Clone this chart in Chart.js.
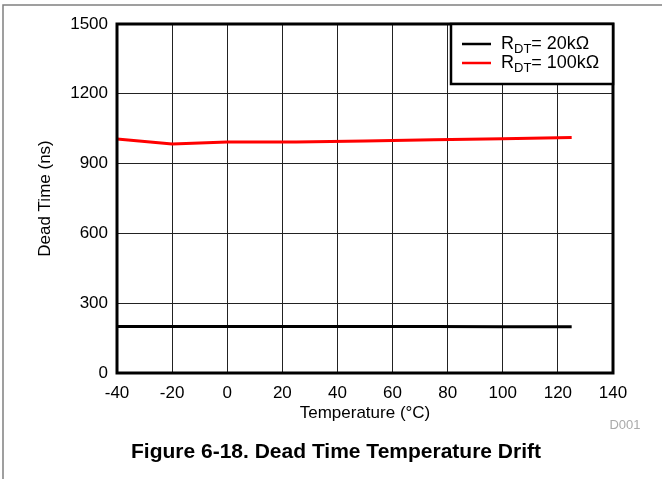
<!DOCTYPE html>
<html lang="en">
<head>
    <meta charset="UTF-8">
    <title>Dead Time Temperature Drift</title>
    <script src="https://cdnjs.cloudflare.com/ajax/libs/Chart.js/4.4.0/chart.umd.min.js"></script>
    <style>
        body {
            margin: 0;
            background-color: white;
        }
        #wrap {
            position: relative;
            width: 662px;
            height: 479px;
        }
        canvas {
            position: absolute;
            left: 0;
            top: 0;
        }
    </style>
</head>
<body>
    <div id="wrap">
        <canvas id="driftChart" width="662" height="479"></canvas>
    </div>

    <script>
        // data
        const temperatures = [-40, -20, 0, 25, 50, 75, 100, 125];
        const deadTime20k = [200, 200, 200, 200, 200, 200, 199, 199];
        const deadTime100k = [1006, 984, 993, 993, 997, 1002, 1007, 1012];

        const xTicks = [-40, -20, 0, 20, 40, 60, 80, 100, 120, 140];
        const yTicks = [0, 300, 600, 900, 1200, 1500];

        const seriesNames = ['20k\u03A9', '100k\u03A9'];
        const seriesColors = ['#000000', '#ff0000'];

        const FONT = '"Liberation Sans", Arial, sans-serif';

        function toPoints(xs, ys) {
            return xs.map((x, i) => ({ x: x, y: ys[i] }));
        }

        // frame, axis titles, legend and caption
        const decorations = {
            id: 'decorations',
            afterDraw(chart) {
                const ctx = chart.ctx;
                const area = chart.chartArea;
                ctx.save();

                // outer gray frame (top and left only)
                ctx.strokeStyle = '#808080';
                ctx.lineWidth = 1.5;
                ctx.beginPath();
                ctx.moveTo(662, 5);
                ctx.lineTo(3, 5);
                ctx.lineTo(3, 479);
                ctx.stroke();

                // thick plot border
                ctx.strokeStyle = '#000';
                ctx.lineWidth = 3;
                ctx.strokeRect(area.left, area.top, area.right - area.left, area.bottom - area.top);

                // legend box
                const lx = 451, ly = area.top, lw = area.right - 451, lh = 60;
                ctx.fillStyle = '#fff';
                ctx.fillRect(lx, ly, lw, lh);
                ctx.lineWidth = 2.5;
                ctx.strokeRect(lx, ly, lw, lh);

                seriesNames.forEach((name, i) => {
                    const y = 44 + i * 19;
                    ctx.strokeStyle = seriesColors[i];
                    ctx.lineWidth = 2.5;
                    ctx.beginPath();
                    ctx.moveTo(462, y);
                    ctx.lineTo(491, y);
                    ctx.stroke();

                    ctx.fillStyle = '#000';
                    ctx.textBaseline = 'middle';
                    ctx.textAlign = 'left';
                    ctx.font = '18px ' + FONT;
                    let x = 501;
                    ctx.fillText('R', x, y);
                    x += ctx.measureText('R').width;
                    ctx.font = '13px ' + FONT;
                    ctx.fillText('DT', x, y + 5);
                    x += ctx.measureText('DT').width;
                    ctx.font = '18px ' + FONT;
                    ctx.fillText('= ' + name, x, y);
                });

                // axis titles
                ctx.fillStyle = '#000';
                ctx.font = '17px ' + FONT;
                ctx.textAlign = 'center';
                ctx.textBaseline = 'middle';
                ctx.fillText('Temperature (\u00B0C)', (area.left + area.right) / 2, 413);

                ctx.save();
                ctx.translate(45, (area.top + area.bottom) / 2);
                ctx.rotate(-Math.PI / 2);
                ctx.fillText('Dead Time (ns)', 0, 0);
                ctx.restore();

                // figure id
                ctx.fillStyle = '#aaaaaa';
                ctx.font = '13px ' + FONT;
                ctx.fillText('D001', 625, 425);

                // caption
                ctx.fillStyle = '#000';
                ctx.font = 'bold 21px ' + FONT;
                ctx.fillText('Figure 6-18. Dead Time Temperature Drift', 336, 452);

                ctx.restore();
            }
        };

        new Chart(document.getElementById('driftChart'), {
            type: 'line',
            data: {
                datasets: [{
                    label: 'RDT= ' + seriesNames[0],
                    data: toPoints(temperatures, deadTime20k),
                    borderColor: seriesColors[0],
                    borderWidth: 3,
                    pointRadius: 0,
                    tension: 0
                }, {
                    label: 'RDT= ' + seriesNames[1],
                    data: toPoints(temperatures, deadTime100k),
                    borderColor: seriesColors[1],
                    borderWidth: 3,
                    pointRadius: 0,
                    tension: 0
                }]
            },
            options: {
                responsive: false,
                animation: false,
                devicePixelRatio: 1,
                layout: {
                    padding: { top: 24, right: 49, left: 0, bottom: 0 }
                },
                plugins: {
                    legend: { display: false },
                    tooltip: { enabled: false }
                },
                scales: {
                    x: {
                        type: 'linear',
                        min: -40,
                        max: 140,
                        afterBuildTicks: scale => { scale.ticks = xTicks.map(v => ({ value: v })); },
                        afterFit: scale => { scale.height = 106; },
                        grid: { color: '#222', lineWidth: 1, drawTicks: false },
                        border: { display: false },
                        ticks: {
                            color: '#000',
                            padding: 10,
                            maxRotation: 0,
                            callback: v => String(v),
                            font: { family: FONT, size: 17 }
                        }
                    },
                    y: {
                        min: 0,
                        max: 1500,
                        afterBuildTicks: scale => { scale.ticks = yTicks.map(v => ({ value: v })); },
                        afterFit: scale => { scale.width = 117; },
                        grid: { color: '#222', lineWidth: 1, drawTicks: false },
                        border: { display: false },
                        ticks: {
                            color: '#000',
                            padding: 9,
                            callback: v => String(v),
                            font: { family: FONT, size: 17 }
                        }
                    }
                }
            },
            plugins: [decorations]
        });
    </script>
</body>
</html>
